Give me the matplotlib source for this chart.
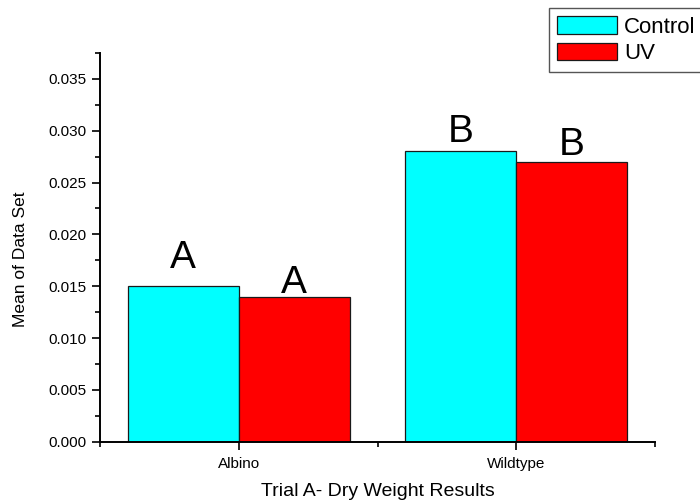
"""
Grouped bars: mean dry weight, Control vs UV, for albino and wildtype plants.
"""

import matplotlib.pyplot as plt
import numpy as np
from matplotlib.ticker import MultipleLocator

plt.rcParams["font.family"] = ["Liberation Sans", "DejaVu Sans"]

GROUPS = ["Albino", "Wildtype"]
SERIES = ["Control", "UV"]
CONTROL_MEANS = [0.015, 0.028]
UV_MEANS = [0.014, 0.027]
# significance letters and the height each one sits at
CONTROL_LETTERS = ["A", "B"]
UV_LETTERS = ["A", "B"]
CONTROL_LETTER_Y = [0.0168, 0.0289]
UV_LETTER_Y = [0.0143, 0.0277]

BAR_W = 0.4
COLORS = ["#00FFFF", "#FF0000"]


def main() -> None:
    fig = plt.figure(figsize=(7.0, 5.04), dpi=100)
    ax = fig.add_axes([0.1429, 0.1236, 0.7928, 0.7712])

    x = np.arange(1, len(GROUPS) + 1)
    b1 = ax.bar(x - BAR_W / 2, CONTROL_MEANS, BAR_W, color=COLORS[0],
                edgecolor="#1a1a1a", linewidth=0.9, label=SERIES[0])
    b2 = ax.bar(x + BAR_W / 2, UV_MEANS, BAR_W, color=COLORS[1],
                edgecolor="#1a1a1a", linewidth=0.9, label=SERIES[1])

    for xi, txt, yy in zip(x - BAR_W / 2, CONTROL_LETTERS, CONTROL_LETTER_Y):
        ax.text(xi, yy, txt, ha="center", va="baseline", fontsize=28)
    for xi, txt, yy in zip(x + BAR_W / 2, UV_LETTERS, UV_LETTER_Y):
        ax.text(xi, yy, txt, ha="center", va="baseline", fontsize=28)

    ax.set_xlim(0.5, 2.5)
    ax.set_ylim(0, 0.0375)
    ax.set_xticks(x)
    ax.set_xticklabels(GROUPS, fontsize=11)
    ax.xaxis.set_minor_locator(MultipleLocator(0.5))
    ax.yaxis.set_major_locator(MultipleLocator(0.005))
    ax.yaxis.set_minor_locator(MultipleLocator(0.0025))
    ax.yaxis.set_major_formatter(lambda v, _: f"{v:.3f}")
    ax.tick_params(axis="y", labelsize=11, pad=4)
    ax.tick_params(which="major", length=6, width=1.2, direction="out")
    ax.tick_params(which="minor", length=3.5, width=1.2, direction="out")
    ax.tick_params(axis="x", pad=5)

    for side in ("top", "right"):
        ax.spines[side].set_visible(False)
    for side in ("left", "bottom"):
        ax.spines[side].set_linewidth(1.4)

    ax.set_xlabel("Trial A- Dry Weight Results", fontsize=14, labelpad=9)
    ax.set_ylabel("Mean of Data Set", fontsize=12.5)
    ax.yaxis.set_label_coords(-0.13, 0.47)

    fig.legend(
        handles=[b1, b2],
        labels=SERIES,
        loc="upper left",
        bbox_to_anchor=(549 / 700, 1 - 8 / 504),
        bbox_transform=fig.transFigure,
        borderaxespad=0,
        fontsize=16,
        fancybox=False,
        edgecolor="#555555",
        framealpha=1,
        handlelength=2.7,
        handleheight=0.82,
        handletextpad=0.3,
        borderpad=0.38,
        labelspacing=0.22,
    )

    fig.savefig("out.png", dpi=100)
    plt.close(fig)


if __name__ == "__main__":
    main()
